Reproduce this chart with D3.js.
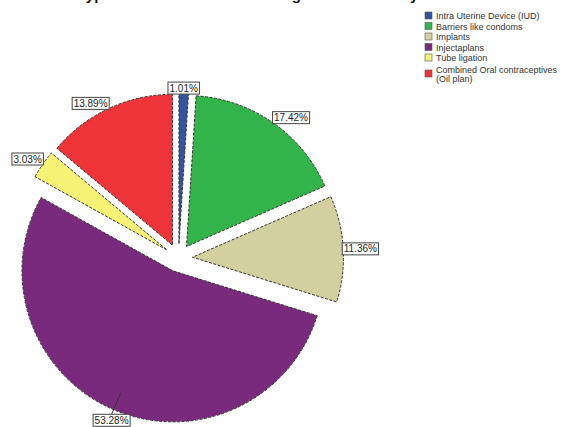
<!DOCTYPE html>
<html><head><meta charset="utf-8">
<script src="https://cdn.jsdelivr.net/npm/d3@7"></script>
<style>
html,body{margin:0;padding:0;background:#fff;}
svg{display:block;}
</style></head>
<body>
<svg id="chart" width="585" height="427"></svg>
<script>
const titleText = "Preferred type of modern method among women in study area";
const categories = ["Intra Uterine Device (IUD)", "Barriers like condoms", "Implants", "Injectaplans", "Tube ligation", "Combined Oral contraceptives (Oil plan)"];
const legendLines = [["Intra Uterine Device (IUD)"], ["Barriers like condoms"], ["Implants"], ["Injectaplans"], ["Tube ligation"], ["Combined Oral contraceptives", "(Oil plan)"]];
const values = [1.01, 17.42, 11.36, 53.28, 3.03, 13.89];
const colors = ["#34549f", "#33b44b", "#d4cf9e", "#7a2a7d", "#f6f275", "#ee3439"];

const svg = d3.select("#chart");
const W = 585, H = 427;
const cx = 178.5, cy = 258, R = 151, explode = 14;

// title (top is clipped by frame, as in the reference)
svg.append("text").attr("x", 10).attr("y", -0.5)
  .attr("font-family", "Liberation Sans, Arial, sans-serif")
  .attr("font-size", 15).attr("font-weight", "bold").attr("fill", "#111")
  .text(titleText);

const pie = d3.pie().sort(null).value(d => d).startAngle(0).endAngle(2 * Math.PI);
const arcs = pie(values);
const arc = d3.arc().innerRadius(0).outerRadius(R);

const g = svg.append("g").attr("transform", `translate(${cx},${cy})`);
const mid = a => (a.startAngle + a.endAngle) / 2;

g.selectAll("path.slice").data(arcs).join("path")
  .attr("class", "slice")
  .attr("transform", d => {
    const m = mid(d);
    return `translate(${explode * Math.sin(m)},${-explode * Math.cos(m)})`;
  })
  .attr("d", arc)
  .attr("fill", (d, i) => colors[i])
  .attr("stroke", "#333")
  .attr("stroke-width", 1)
  .attr("stroke-dasharray", "3,1.5");

// labels
const fmt = v => v.toFixed(2) + "%";
const lblFont = 10;
arcs.forEach((d, i) => {
  const m = mid(d);
  const s = Math.sin(m), c = Math.cos(m);
  const bottom = c < -0.5;
  const rl = bottom ? R + explode + 5 : R + explode - 1;
  const px = rl * s, py = -rl * c;
  const txt = fmt(values[i]);
  const t = g.append("text")
    .attr("font-family", "Liberation Sans, Arial, sans-serif")
    .attr("font-size", lblFont).attr("fill", "#222").text(txt);
  const bb = t.node().getBBox();
  const w = bb.width + 3, h = 12;
  let bx, by;
  if (s > 0.15) bx = px; else if (s < -0.15) bx = px - w; else bx = px - w / 2;
  if (bottom) { bx = px - w / 2; by = py; }
  else if (c > 0.15) by = py - h; else if (c < -0.15) by = py - 4; else by = py - h / 2;
  if (bottom) {
    const r0 = R + explode - 18;
    g.insert("line", "text").attr("x1", r0 * s).attr("y1", -r0 * c).attr("x2", px).attr("y2", py)
      .attr("stroke", "#333").attr("stroke-width", 1);
  }
  g.insert("rect", "text").attr("x", bx).attr("y", by).attr("width", w).attr("height", h)
    .attr("fill", "#fff").attr("stroke", "#444").attr("stroke-width", 1);
  t.attr("x", bx + 1.5).attr("y", by + h - 2.5);
});

// legend
const lg = svg.append("g").attr("transform", "translate(425,12)");
const rowY = [0, 10.5, 21, 31.5, 42, 58];
legendLines.forEach((lines, i) => {
  const y = rowY[i];
  lg.append("rect").attr("x", 0).attr("y", y).attr("width", 7).attr("height", 7)
    .attr("fill", colors[i]).attr("stroke", "#555").attr("stroke-width", 0.6);
  lines.forEach((ln, j) => {
    lg.append("text").attr("x", 11).attr("y", y + 7 - (lines.length - 1) * 4.5 + j * 9)
      .attr("font-family", "Liberation Sans, Arial, sans-serif")
      .attr("font-size", 9).attr("fill", "#333").text(ln);
  });
});
</script>
</body></html>
